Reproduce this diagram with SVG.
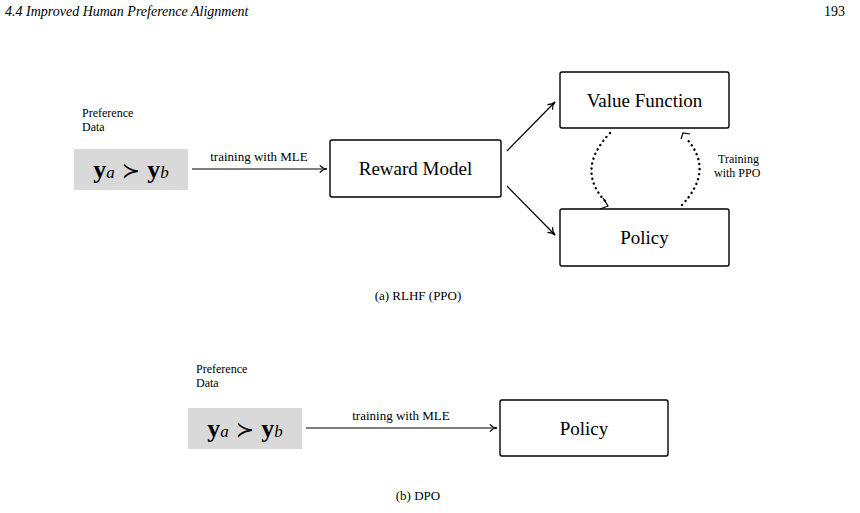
<svg xmlns="http://www.w3.org/2000/svg" width="860" height="513" viewBox="0 0 860 513">
<style>
text{font-family:"Liberation Serif","DejaVu Serif",serif;fill:#000}
.box{fill:#fff;stroke:#000;stroke-width:1.4}
.gray{fill:#d9d9d9}
.ln{stroke:#000;stroke-width:1.2;fill:none}
.dot{stroke:#000;stroke-width:2.4;fill:none;stroke-dasharray:0.1 5;stroke-linecap:round}
.math{font-size:26px}
</style>
<defs>
<marker id="ah" viewBox="0 0 10 10" refX="9" refY="5" markerWidth="9" markerHeight="9" markerUnits="userSpaceOnUse" orient="auto"><path d="M1,1 Q5,5 9,5 Q5,5 1,9" fill="none" stroke="#000" stroke-width="1.3"/></marker>
</defs>
<text x="5" y="16" font-size="14" font-style="italic" font-family="Liberation Sans">4.4 Improved Human Preference Alignment</text>
<text x="845" y="16" font-size="14" text-anchor="end">193</text>
<g id="pref1">
<text x="82" y="117" font-size="12">Preference</text>
<text x="82" y="131" font-size="12">Data</text>
<rect class="gray" x="74" y="149" width="114" height="41"/>
<text x="131" y="178" class="math" text-anchor="middle"><tspan font-weight="bold">y</tspan><tspan font-style="italic" font-size="17">a</tspan><tspan font-family="DejaVu Sans" font-size="22"> ≻ </tspan><tspan font-weight="bold">y</tspan><tspan font-style="italic" font-size="17">b</tspan></text>
</g>
<g id="reward"><rect class="box" x="330" y="140" width="171" height="57" rx="2"/><text x="415.5" y="175" font-size="19" text-anchor="middle">Reward Model</text></g>
<g id="value"><rect class="box" x="560" y="72" width="169" height="56" rx="2"/><text x="644.5" y="107" font-size="19" text-anchor="middle">Value Function</text></g>
<g id="policy1"><rect class="box" x="560" y="209" width="169" height="57" rx="2"/><text x="644.5" y="244" font-size="19" text-anchor="middle">Policy</text></g>
<text x="418" y="300" font-size="13" text-anchor="middle">(a) RLHF (PPO)</text>
<g id="pref2">
<text x="196" y="373" font-size="12">Preference</text>
<text x="196" y="387" font-size="12">Data</text>
<rect class="gray" x="188" y="408" width="114" height="41"/>
<text x="245" y="437" class="math" text-anchor="middle"><tspan font-weight="bold">y</tspan><tspan font-style="italic" font-size="17">a</tspan><tspan font-family="DejaVu Sans" font-size="22"> ≻ </tspan><tspan font-weight="bold">y</tspan><tspan font-style="italic" font-size="17">b</tspan></text>
</g>
<g id="policy2"><rect class="box" x="500" y="400" width="168" height="56" rx="2"/><text x="584" y="435" font-size="19" text-anchor="middle">Policy</text></g>
<text x="418" y="500" font-size="13" text-anchor="middle">(b) DPO</text>
<g id="connectors">
<line class="ln" x1="192" y1="169" x2="327" y2="169" marker-end="url(#ah)"/>
<text x="259" y="161" font-size="13" text-anchor="middle">training with MLE</text>
<line class="ln" x1="507" y1="151" x2="555" y2="102" marker-end="url(#ah)"/>
<line class="ln" x1="507" y1="186" x2="555" y2="235" marker-end="url(#ah)"/>
<path class="dot" d="M610,133 Q575,170 606,202"/>
<path class="ln" stroke-width="1.6" d="M603,198 L608,206 L600,209"/>
<path class="dot" d="M682,205 Q715,170 686,138"/>
<path class="ln" stroke-width="1.6" d="M681,139 L683,133 L690,134"/>
<text x="718" y="163" font-size="12">Training</text>
<text x="714" y="177" font-size="12">with PPO</text>
<line class="ln" x1="306" y1="428" x2="497" y2="428" marker-end="url(#ah)"/>
<text x="401" y="420" font-size="13" text-anchor="middle">training with MLE</text>
</g>
</svg>
